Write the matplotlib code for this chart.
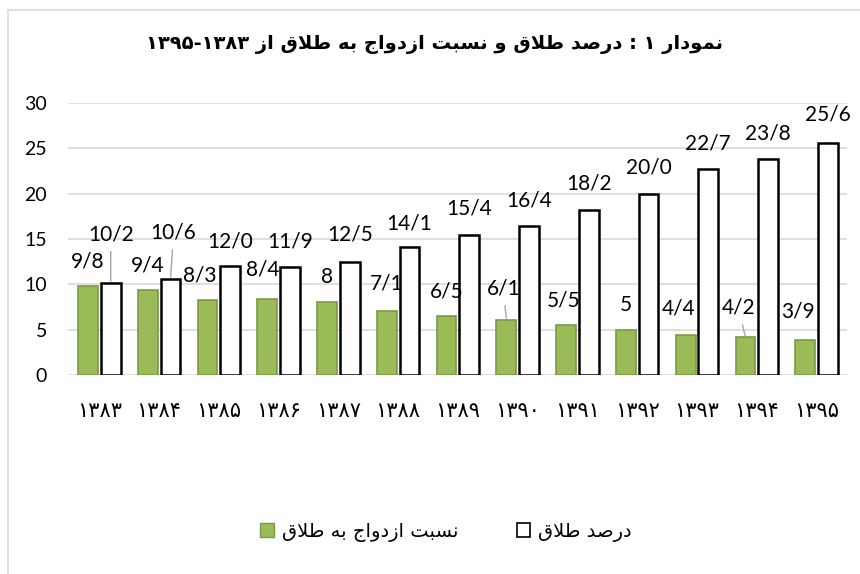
#%% imports
import matplotlib
matplotlib.use('Agg')
from matplotlib import pyplot as plt
from matplotlib.patches import Patch
from matplotlib.lines import Line2D
import numpy as np

# %% data
years = ['۱۳۸۳', '۱۳۸۴', '۱۳۸۵', '۱۳۸۶', '۱۳۸۷', '۱۳۸۸', '۱۳۸۹',
         '۱۳۹۰', '۱۳۹۱', '۱۳۹۲', '۱۳۹۳', '۱۳۹۴', '۱۳۹۵']
ratio = [9.8, 9.4, 8.3, 8.4, 8.0, 7.1, 6.5, 6.1, 5.5, 5.0, 4.4, 4.2, 3.9]
divorce = [10.2, 10.6, 12.0, 11.9, 12.5, 14.1, 15.4, 16.4, 18.2, 20.0, 22.7, 23.8, 25.6]
ratio_labels = ['9/8', '9/4', '8/3', '8/4', '8', '7/1', '6/5', '6/1', '5/5', '5', '4/4', '4/2', '3/9']
divorce_labels = ['10/2', '10/6', '12/0', '11/9', '12/5', '14/1', '15/4', '16/4',
                  '18/2', '20/0', '22/7', '23/8', '25/6']
title = 'نمودار ۱ : درصد طلاق و نسبت ازدواج به طلاق از ۱۳۸۳-۱۳۹۵'
series_names = ['نسبت ازدواج به طلاق', 'درصد طلاق']

# label nudges in pixels (dx, dy) like excel placed them
ratio_off = [(0, 25), (0, 24), (-8, 24), (-5, 29), (0, 25), (0, 27), (0, 25),
             (-3, 31), (-3, 25), (0, 25), (-7, 27), (-7, 29), (-7, 28)]
divorce_off = [(0, 48), (3, 46), (0, 25), (0, 26), (0, 27), (0, 24), (0, 27),
               (0, 26), (0, 26), (0, 26), (0, 26), (0, 26), (0, 28)]
ratio_leader = [7, 11]
divorce_leader = [0, 1]

# %% simple arabic shaping (matplotlib has no bidi/shaping)
FORMS = {  # isolated, final, initial, medial
    'ا': (0xFE8D, 0xFE8E, None, None),
    'ب': (0xFE8F, 0xFE90, 0xFE91, 0xFE92),
    'ت': (0xFE95, 0xFE96, 0xFE97, 0xFE98),
    'ج': (0xFE9D, 0xFE9E, 0xFE9F, 0xFEA0),
    'د': (0xFEA9, 0xFEAA, None, None),
    'ر': (0xFEAD, 0xFEAE, None, None),
    'ز': (0xFEAF, 0xFEB0, None, None),
    'س': (0xFEB1, 0xFEB2, 0xFEB3, 0xFEB4),
    'ص': (0xFEB9, 0xFEBA, 0xFEBB, 0xFEBC),
    'ط': (0xFEC1, 0xFEC2, 0xFEC3, 0xFEC4),
    'ق': (0xFED5, 0xFED6, 0xFED7, 0xFED8),
    'ل': (0xFEDD, 0xFEDE, 0xFEDF, 0xFEE0),
    'م': (0xFEE1, 0xFEE2, 0xFEE3, 0xFEE4),
    'ن': (0xFEE5, 0xFEE6, 0xFEE7, 0xFEE8),
    'ه': (0xFEE9, 0xFEEA, 0xFEEB, 0xFEEC),
    'و': (0xFEED, 0xFEEE, None, None),
    'لا': (0xFEFB, 0xFEFC, None, None),
}


def shape_word(word):
    units = []
    i = 0
    while i < len(word):
        if word[i] == 'ل' and i + 1 < len(word) and word[i + 1] == 'ا':
            units.append('لا')
            i += 2
        else:
            units.append(word[i])
            i += 1
    out = []
    for k, u in enumerate(units):
        if u not in FORMS:
            out.append(u)
            continue
        iso, fin, ini, med = FORMS[u]
        prev_joins = k > 0 and units[k - 1] in FORMS and FORMS[units[k - 1]][2] is not None
        next_joins = ini is not None and k + 1 < len(units) and units[k + 1] in FORMS
        if prev_joins and next_joins:
            c = med
        elif prev_joins:
            c = fin
        elif next_joins:
            c = ini
        else:
            c = iso
        out.append(chr(c))
    return ''.join(reversed(out))


def rtl(text):
    tokens = []
    for tok in text.split(' '):
        if any(ch in FORMS for ch in tok):
            tokens.append(shape_word(tok))
        elif '-' in tok:
            tokens.append('-'.join(reversed(tok.split('-'))))
        else:
            tokens.append(tok)
    return ' '.join(reversed(tokens))


# %% plot
W, H = 860, 574
fig = plt.figure(figsize=(W / 100, H / 100), dpi=100)
ax = fig.add_axes([68 / W, (H - 375) / H, (847 - 68) / W, (375 - 103) / H])

green = '#9BBB59'
x = np.arange(len(years))
bw = 0.33
b1 = ax.bar(x - 0.19, ratio, bw, color=green, edgecolor='#7B9A45', lw=1.2, zorder=3)
b2 = ax.bar(x + 0.19, divorce, bw, color='white', edgecolor='black', lw=1.8, zorder=3)

ax.set_ylim(0, 30)
ax.set_xlim(-0.525, 12.51)
ax.set_yticks(range(0, 31, 5))
ax.yaxis.grid(True, color='#D9D9D9', lw=1.2, zorder=0)
ax.set_axisbelow(True)
for s in ax.spines.values():
    s.set_visible(False)
ax.tick_params(length=0)
ax.tick_params(axis='y', pad=15)
for lab in ax.get_yticklabels():
    lab.set_fontfamily('Lato')
    lab.set_fontsize(14)
ax.set_xticks(x)
ax.set_xticklabels(years, fontfamily='DejaVu Sans', fontsize=15, va='center')
ax.tick_params(axis='x', pad=26)


def put_labels(bars, vals, texts, offs, leaders):
    for i, (b, v, t, (dx, dy)) in enumerate(zip(bars, vals, texts, offs)):
        cx = b.get_x() + b.get_width() / 2
        ap = None
        if i in leaders:
            ap = dict(arrowstyle='-', color='#A6A6A6', lw=1, shrinkA=3, shrinkB=1)
        ax.annotate(t, (cx, v), xytext=(dx, dy), textcoords='offset pixels',
                    ha='center', va='center', fontsize=15, fontfamily='Lato',
                    color='black', arrowprops=ap, zorder=4)


put_labels(b1, ratio, ratio_labels, ratio_off, ratio_leader)
put_labels(b2, divorce, divorce_labels, divorce_off, divorce_leader)

fig.text(434 / W, 1 - 45 / H, rtl(title), ha='center', va='center',
         fontsize=14, fontweight='bold', fontfamily='DejaVu Sans')

handles = [Patch(facecolor=green, edgecolor='#7B9A45'),
           Patch(facecolor='white', edgecolor='black', lw=1.2)]
fig.legend(handles, [rtl(n) for n in series_names], loc='center',
           bbox_to_anchor=(446 / W, 1 - 532 / H), ncol=2, frameon=False,
           prop={'family': 'DejaVu Sans', 'size': 14},
           handlelength=0.7, handleheight=0.7, handletextpad=0.4, columnspacing=3)

# chart area border
fig.add_artist(Line2D([8 / W, 8 / W], [0, 1 - 10 / H], color='#D9D9D9', lw=1.2))
fig.add_artist(Line2D([8 / W, 1], [1 - 10 / H, 1 - 10 / H], color='#D9D9D9', lw=1.2))

fig.savefig('out.png', dpi=100, facecolor='white')
